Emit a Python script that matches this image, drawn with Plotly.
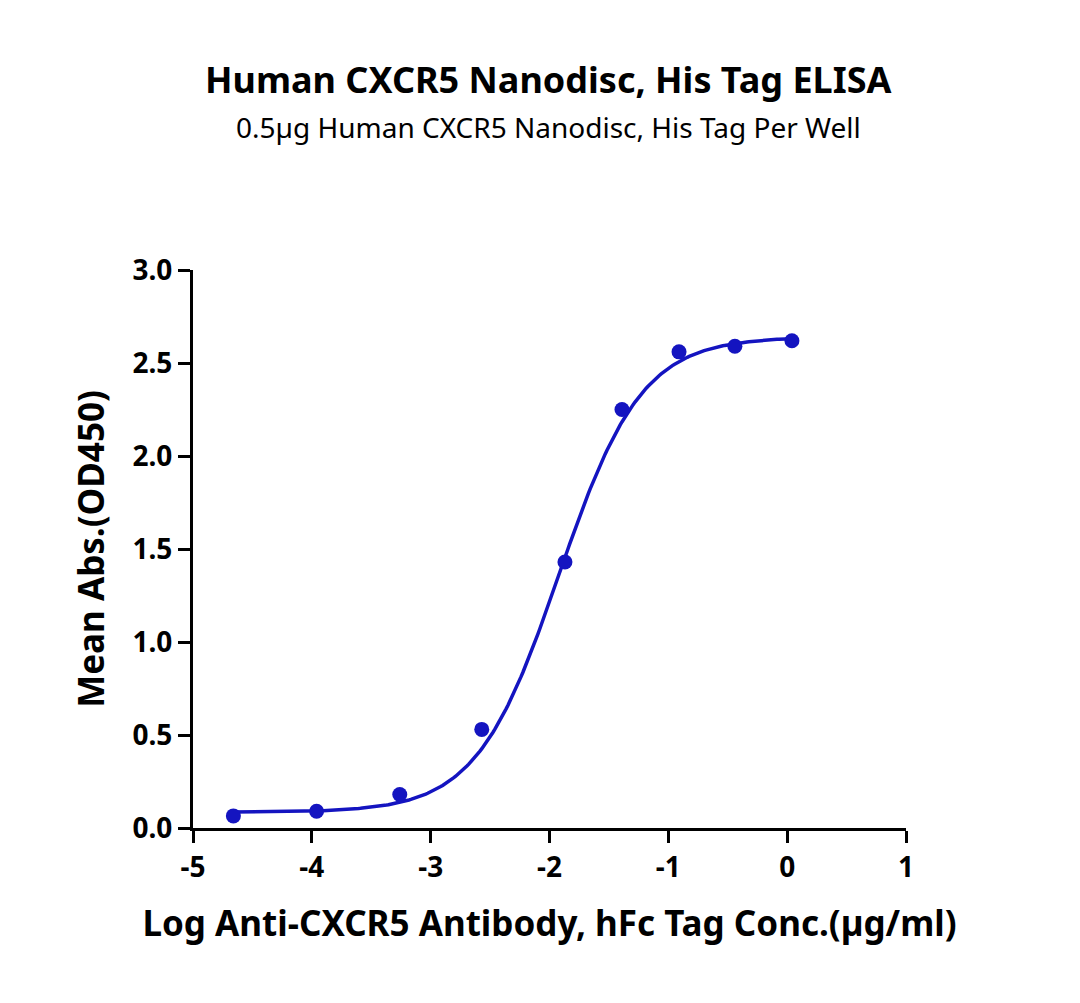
import numpy as np
import plotly.graph_objects as go

log_conc = [-4.66, -3.96, -3.26, -2.57, -1.87, -1.39, -0.91, -0.44, 0.04]
mean_abs = [0.065, 0.09, 0.18, 0.53, 1.43, 2.25, 2.56, 2.59, 2.62]
x_ticks = [-5, -4, -3, -2, -1, 0, 1]
x_tick_labels = ["-5", "-4", "-3", "-2", "-1", "0", "1"]
y_ticks = [0, 0.5, 1, 1.5, 2, 2.5, 3]
# 4PL fit parameters
bottom, top, log_ec50, hill = 0.085, 2.64, -1.92, 1.25

xf = np.linspace(-4.66, 0.04, 300)
yf = bottom + (top - bottom) / (1 + 10 ** ((log_ec50 - xf) * hill))

color = "#1414c0"
fig = go.Figure()
fig.add_trace(go.Scatter(x=xf, y=yf, mode="lines", line=dict(color=color, width=3.5), hoverinfo="skip"))
fig.add_trace(go.Scatter(x=log_conc, y=mean_abs, mode="markers", marker=dict(color=color, size=15)))

font = "Noto Sans"
axis_common = dict(showgrid=False, zeroline=False, showline=True, linecolor="black", linewidth=3,
                   ticks="outside", ticklen=12, tickwidth=3, tickcolor="black",
                   tickfont=dict(family=font, size=28, color="black", weight="bold"))
fig.update_layout(
    width=1080, height=1003, plot_bgcolor="white", paper_bgcolor="white", showlegend=False,
    margin=dict(l=185, r=182, t=262, b=183),
    xaxis=dict(range=[-5, 1], tickvals=x_ticks, ticktext=x_tick_labels, **axis_common,
               title=dict(text="Log Anti-CXCR5 Antibody, hFc Tag Conc.(µg/ml)", standoff=28,
                          font=dict(family=font, size=35, color="black", weight="bold"))),
    yaxis=dict(range=[0, 3], tickvals=y_ticks, tickformat=".1f", **axis_common,
               title=dict(text="Mean Abs.(OD450)", standoff=18,
                          font=dict(family=font, size=35, color="black", weight="bold"))),
    annotations=[
        dict(text="<b>Human CXCR5 Nanodisc, His Tag ELISA</b>", x=0.5, y=1.0, xref="paper", yref="paper",
             showarrow=False, font=dict(family=font, size=36, color="black")),
        dict(text="0.5µg Human CXCR5 Nanodisc, His Tag Per Well", x=0.5, y=1.0, xref="paper", yref="paper",
             showarrow=False, font=dict(family=font, size=28, color="black")),
    ],
)
ph = 1003 - 262 - 183
pw = 1080 - 185 - 182
for a, py in zip(fig.layout.annotations, [45, 98]):
    a.y = (820 - py) / ph
    a.x = (540 - 185) / pw
fig.write_html("out.html")
